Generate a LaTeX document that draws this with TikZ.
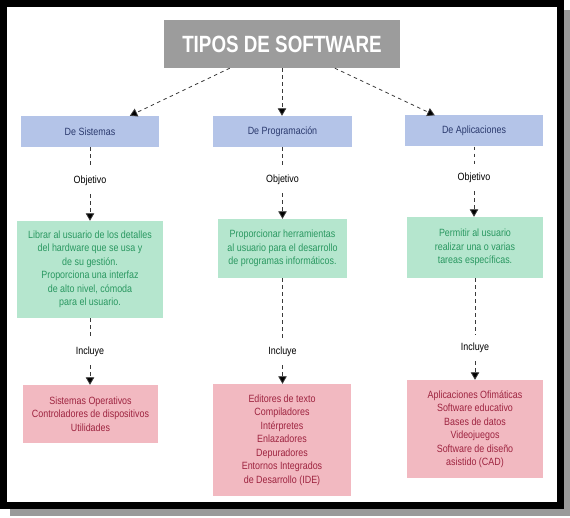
\documentclass[tikz,border=0pt]{standalone}
\usepackage{fontspec}
\setmainfont{Liberation Sans}[FakeStretch=0.85]
\newfontfamily\titlefont{Liberation Sans}[FakeStretch=0.80]
\usetikzlibrary{arrows.meta}
\definecolor{shadowgray}{HTML}{9A9A9A}
\definecolor{titlegray}{HTML}{9C9C9C}
\definecolor{bluefill}{HTML}{B4C4E8}
\definecolor{bluetext}{HTML}{2B3A6E}
\definecolor{greenfill}{HTML}{B5E6CE}
\definecolor{greentext}{HTML}{2A9861}
\definecolor{pinkfill}{HTML}{F2B9C1}
\definecolor{pinktext}{HTML}{9E2440}
\definecolor{linegray}{HTML}{3A3A3A}
\tikzset{
  titlebox/.style={fill=titlegray, text=white, inner sep=0pt, font=\titlefont\bfseries\fontsize{23.5}{26}\selectfont},
  bluebox/.style={fill=bluefill, text=bluetext, inner sep=0pt, minimum width=138pt, minimum height=31pt, font=\fontsize{10.5}{13.5}\selectfont},
  greenbox/.style={fill=greenfill, text=greentext, inner sep=0pt, align=center, font=\fontsize{10.5}{13.5}\selectfont},
  pinkbox/.style={fill=pinkfill, text=pinktext, inner sep=0pt, align=center, font=\fontsize{10.5}{13.5}\selectfont},
  lbl/.style={inner xsep=2pt, inner ysep=8pt, text=black, font=\fontsize{10.5}{12}\selectfont},
  conn/.style={draw=linegray, line width=0.8pt, dash pattern=on 3.5pt off 3.5pt},
  arr/.style={conn, -{Triangle[length=7.5pt,width=8.5pt,fill=black]}}
}
\begin{document}
\begin{tikzpicture}[x=1pt,y=-1pt]
\useasboundingbox (0,0) rectangle (570,518);
\fill[shadowgray] (10,10) rectangle (570,516);
\filldraw[fill=white, draw=black, line width=7pt] (3.5,3.5) rectangle (560.5,505.5);

\node[titlebox, minimum width=236pt, minimum height=48pt] (tit) at (282,44) {TIPOS DE SOFTWARE};

\node[bluebox] (sis) at (90,131.5) {De Sistemas};
\node[bluebox, minimum width=139pt] (pro) at (282.5,131.5) {De Programación};
\node[bluebox] (apl) at (474,131) {De Aplicaciones};

\node[lbl] (o1) at (90,181) {Objetivo};
\node[lbl] (o2) at (282.5,180) {Objetivo};
\node[lbl] (o3) at (474,178) {Objetivo};

\node[greenbox, minimum width=146pt, minimum height=97pt] (g1) at (90,269.5) {Librar al usuario de los detalles\\del hardware que se usa y\\de su gestión.\\Proporciona una interfaz\\de alto nivel, cómoda\\para el usuario.};
\node[greenbox, minimum width=129pt, minimum height=59pt] (g2) at (282.5,248.5) {Proporcionar herramientas\\al usuario para el desarrollo\\de programas informáticos.};
\node[greenbox, minimum width=136pt, minimum height=61pt] (g3) at (475,247.5) {Permitir al usuario\\realizar una o varias\\tareas específicas.};

\node[lbl] (i1) at (90,352) {Incluye};
\node[lbl] (i2) at (282.5,352) {Incluye};
\node[lbl] (i3) at (475,348) {Incluye};

\node[pinkbox, minimum width=135pt, minimum height=58pt] (p1) at (90.5,414) {Sistemas Operativos\\Controladores de dispositivos\\Utilidades};
\node[pinkbox, minimum width=138pt, minimum height=112pt] (p2) at (282,440) {Editores de texto\\Compiladores\\Intérpretes\\Enlazadores\\Depuradores\\Entornos Integrados\\de Desarrollo (IDE)};
\node[pinkbox, minimum width=136pt, minimum height=98pt] (p3) at (475,429) {Aplicaciones Ofimáticas\\Software educativo\\Bases de datos\\Videojuegos\\Software de diseño\\asistido (CAD)};

\draw[arr] ([xshift=66pt]tit.south west) -- ([xshift=109pt]sis.north west);
\draw[arr] (tit.south) -- (tit.south |- pro.north);
\draw[arr] ([xshift=171pt]tit.south west) -- ([xshift=30pt]apl.north west);

\draw[conn] (sis.south) -- (o1.north);
\draw[conn] (pro.south) -- (o2.north);
\draw[conn] (apl.south) -- (o3.north);
\draw[arr] (o1.south) -- (o1.south |- g1.north);
\draw[arr] (o2.south) -- (o2.south |- g2.north);
\draw[arr] (o3.south) -- (o3.south |- g3.north);

\draw[conn] (g1.south) -- (i1.north);
\draw[conn] (g2.south) -- (i2.north);
\draw[conn] (g3.south) -- (i3.north);
\draw[arr] (i1.south) -- (i1.south |- p1.north);
\draw[arr] (i2.south) -- (i2.south |- p2.north);
\draw[arr] (i3.south) -- (i3.south |- p3.north);
\end{tikzpicture}
\end{document}
